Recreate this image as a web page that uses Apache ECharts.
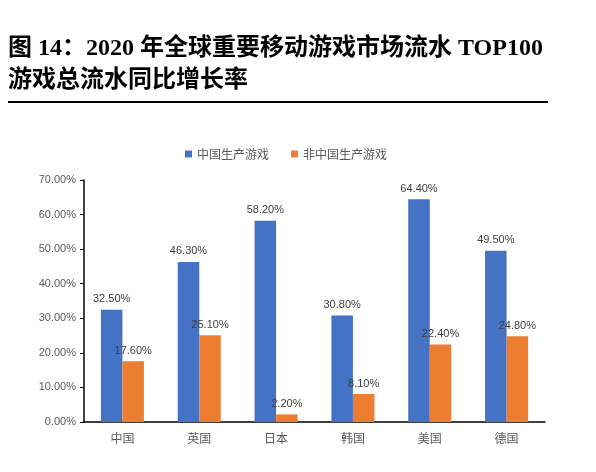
<!DOCTYPE html>
<html>
<head>
<meta charset="utf-8">
<script src="https://cdn.jsdelivr.net/npm/echarts@6/dist/echarts.min.js"></script>
<style>
html,body{margin:0;padding:0;background:#fff;}
#chart{width:596px;height:472px;}
</style>
</head>
<body>
<div id="chart"></div>
<script>
var categories = ['中国', '英国', '日本', '韩国', '美国', '德国'];
var chinaMade = [32.5, 46.3, 58.2, 30.8, 64.4, 49.5];
var nonChinaMade = [17.6, 25.1, 2.2, 8.1, 22.4, 24.8];
var seriesNames = ['中国生产游戏', '非中国生产游戏'];
var yTicks = { min: 0, max: 70, interval: 10 };
var titleLine1 = '图 14：2020 年全球重要移动游戏市场流水 TOP100';
var titleLine2 = '游戏总流水同比增长率';

var chart = echarts.init(document.getElementById('chart'), null, {renderer: 'canvas'});
var pct = function (v) { return Number(v).toFixed(2) + '%'; };
var labelStyle = {
  show: true, position: 'top', distance: 5,
  color: '#404040', fontSize: 11, fontFamily: 'Liberation Sans, Noto Sans CJK SC',
  formatter: function (p) { return pct(p.value); }
};
var titleFont = '"Liberation Serif", "Noto Sans CJK SC", serif';
chart.setOption({
  backgroundColor: '#fff',
  animation: false,
  graphic: [
    { type: 'text', left: 8, top: 37, style: { text: titleLine1, font: 'bold 24px ' + titleFont, fill: '#000' } },
    { type: 'text', left: 8, top: 69, style: { text: titleLine2, font: 'bold 24px ' + titleFont, fill: '#000' } },
    { type: 'rect', shape: { x: 8, y: 101, width: 540, height: 2 }, style: { fill: '#000' } }
  ],
  legend: {
    top: 143, left: 180,
    itemWidth: 7, itemHeight: 7, itemGap: 22,
    icon: 'rect',
    textStyle: { color: '#595959', fontSize: 12, fontFamily: 'Noto Sans CJK SC' },
    data: seriesNames
  },
  grid: { left: 84, right: 51, top: 180, bottom: 50, containLabel: false },
  xAxis: {
    type: 'category', data: categories,
    axisLine: { lineStyle: { color: '#000', width: 1.5 } },
    axisTick: { show: false },
    axisLabel: { color: '#595959', fontSize: 12, margin: 10, fontFamily: 'Noto Sans CJK SC' }
  },
  yAxis: {
    type: 'value', min: yTicks.min, max: yTicks.max, interval: yTicks.interval,
    axisLine: { show: true, lineStyle: { color: '#000', width: 1.5 } },
    axisTick: { show: true, length: 4, lineStyle: { color: '#000' } },
    splitLine: { show: false },
    axisLabel: { color: '#595959', fontSize: 11, margin: 8, fontFamily: 'Liberation Sans', formatter: pct }
  },
  series: [
    { name: seriesNames[0], type: 'bar', data: chinaMade, barWidth: '28%', barGap: '0%',
      itemStyle: { color: '#4472C4' }, label: labelStyle },
    { name: seriesNames[1], type: 'bar', data: nonChinaMade, barWidth: '28%',
      itemStyle: { color: '#ED7D31' }, label: labelStyle }
  ]
});
</script>
</body>
</html>
